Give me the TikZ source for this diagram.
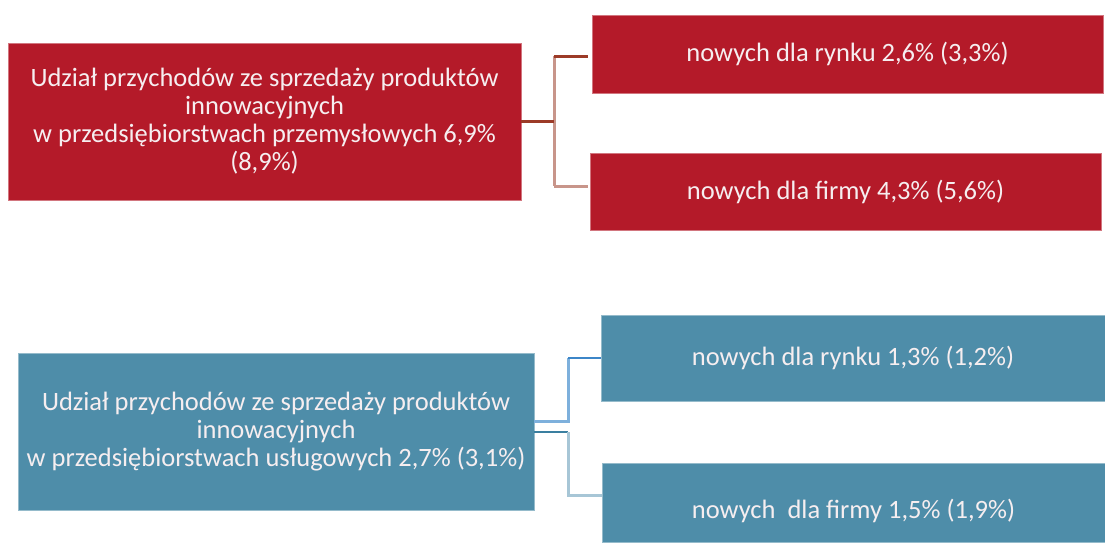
\documentclass[tikz,border=0pt]{standalone}
\usepackage{fontspec}
\setmainfont{Carlito}
\definecolor{boxred}{HTML}{B41A29}
\definecolor{boxblue}{HTML}{4E8DA9}
\definecolor{lnreddark}{HTML}{9C3B28}
\definecolor{lnredlight}{HTML}{C8958A}
\definecolor{lnbluemid}{HTML}{7EB0DC}
\definecolor{lnbluedark}{HTML}{3C86C8}
\definecolor{lnbluedeep}{HTML}{3A7FA0}
\definecolor{lnbluelight}{HTML}{A7C6D6}
\definecolor{txtlight}{HTML}{F6EEF0}
\begin{document}
\begin{tikzpicture}[x=1pt,y=-1pt,
  box/.style={rectangle, inner sep=0pt, text=txtlight, align=center,
    font=\fontsize{26.5}{28}\selectfont},
  redbox/.style={box, fill=boxred, draw=boxred!60!white, line width=0.6pt},
  bluebox/.style={box, fill=boxblue, draw=boxblue!60!white, line width=0.6pt},
  conn/.style={line width=3pt}]
\useasboundingbox[fill=white] (0,0) rectangle (1105,542);
% red group
\node[redbox, minimum width=513pt, minimum height=157pt] (M) at (264.5,121.5)
  {Udział przychodów ze sprzedaży produktów\\innowacyjnych\\w przedsiębiorstwach przemysłowych 6,9\%\\(8,9\%)};
\node[redbox, minimum width=511pt, minimum height=78pt] (R1) at (847.5,54)
  {nowych dla rynku 2,6\% (3,3\%)};
\node[redbox, minimum width=511pt, minimum height=77pt] (R2) at (845.5,191.5)
  {nowych dla firmy 4,3\% (5,6\%)};
\coordinate (jr) at (554,121.5);
\coordinate (jrt) at (554,56);
\coordinate (jrb) at (554,186);
\draw[conn, lnredlight] (jrt) -- (jrb);
\draw[conn, lnreddark] (M.east) -- (jr);
\draw[conn, lnreddark] (jrt) -- ([xshift=-4pt]R1.west |- jrt);
\draw[conn, lnredlight] (jrb) -- ([xshift=-2pt]R2.west |- jrb);
% blue group
\node[bluebox, minimum width=516pt, minimum height=157pt] (B) at (276,431.5)
  {Udział przychodów ze sprzedaży produktów\\innowacyjnych\\w przedsiębiorstwach usługowych 2,7\% (3,1\%)};
\node[bluebox, minimum width=504pt, minimum height=86pt] (B1) at (853,358)
  {nowych dla rynku 1,3\% (1,2\%)};
\node[bluebox, minimum width=503pt, minimum height=79pt] (B2) at (853.5,502.5)
  {\raisebox{-16pt}[0pt][0pt]{nowych\ \ dla firmy 1,5\% (1,9\%)}};
\coordinate (jbt) at (568,421);
\coordinate (jbu) at (568,358);
\coordinate (jbb) at (568,432);
\coordinate (jbd) at (568,495);
\draw[conn, lnbluemid] (B.east |- jbt) -- (jbt) -- (jbu);
\draw[conn, lnbluedark, line width=2pt] (jbu) -- (B1.west |- jbu);
\draw[conn, lnbluedeep, line width=2pt] (B.east |- jbb) -- (jbb);
\draw[conn, lnbluelight] (jbb) -- (jbd) -- (B2.west |- jbd);
\end{tikzpicture}
\end{document}
